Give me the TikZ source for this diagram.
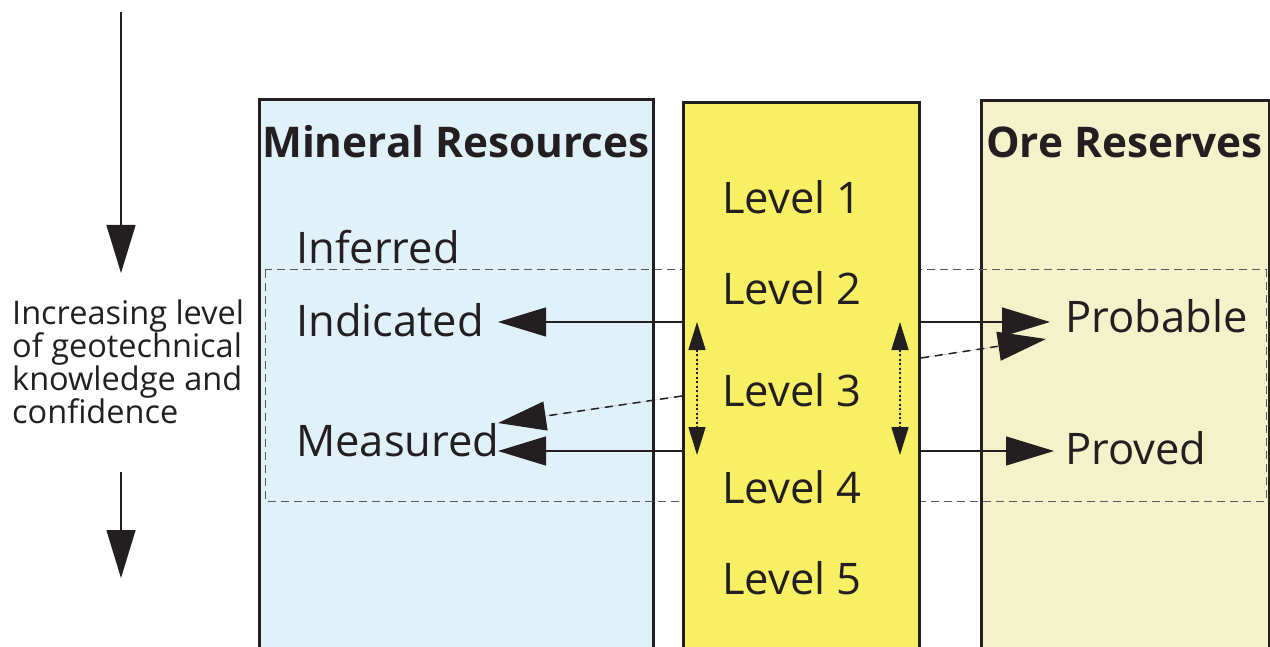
\documentclass[tikz,border=0pt]{standalone}
\usepackage{fontspec}
\setmainfont{Open Sans}
\usepackage{xcolor}
\usepackage{tikz}
\usetikzlibrary{arrows.meta}
\usetikzlibrary{positioning}
\definecolor{inkgray}{RGB}{35,31,32}
\definecolor{resblue}{RGB}{224,241,249}
\definecolor{lvlyellow}{RGB}{248,240,100}
\definecolor{rescream}{RGB}{243,242,203}
\tikzset{
    colbox/.style = {draw=inkgray, line width=3pt, anchor=north west, inner sep=0pt, minimum height=600pt},
    headtext/.style = {anchor=base west, inner sep=0pt, text=inkgray, font=\bfseries\fontsize{42.3}{50}\selectfont},
    cattext/.style = {anchor=base west, inner sep=0pt, text=inkgray, font=\fontsize{43.5}{50}\selectfont},
    captext/.style = {anchor=west, inner sep=0pt, align=left, text=inkgray, font=\fontsize{32.5}{33}\selectfont},
}

\begin{document}
\begin{tikzpicture}[
	x=1pt, y=-1pt,
	line join=miter
]
\tikzset{
    band/.style = {dash pattern=on 8pt off 5pt, line width=1pt, inkgray!75},
    bigarrow/.style = {-{Triangle[length=48pt,width=29pt]}, line width=1.5pt, draw=inkgray, fill=inkgray},
    dasharrow/.style = {bigarrow, dash pattern=on 8pt off 6pt},
    dotarrow/.style = {{Triangle[length=28pt,width=17pt]}-{Triangle[length=28pt,width=17pt]}, dash pattern=on 2pt off 2.5pt, line width=1.5pt, draw=inkgray, fill=inkgray}
}
\useasboundingbox (0,0) rectangle (1270,647);
\clip (0,0) rectangle (1270,647);
%
\node[colbox, fill=resblue, minimum width=394pt] at (258,98) (mr) {};
\node[colbox, fill=rescream, minimum width=288pt] at (980,99) (or) {};
\draw[band] (265,270) rectangle (1266,501);
\node[colbox, fill=lvlyellow, minimum width=236pt] at (682,101) (lv) {};
%
\node[headtext] at (262,158) (mrh) {Mineral Resources};
\node[headtext] at (986,158) (orh) {Ore Reserves};
%
\node[cattext] at (296,264) (inf) {Inferred};
\node[cattext] at (296,337) (ind) {Indicated};
\node[cattext] at (296,456) (mea) {Measured};
\node[cattext] at (1065,333) (pro) {Probable};
\node[cattext] at (1065,464) (prv) {Proved};
%
\node[cattext] at (722,214) (l1) {Level 1};
\node[cattext] at (722,305) (l2) {Level 2};
\node[cattext] at (722,406) (l3) {Level 3};
\node[cattext] at (722,503) (l4) {Level 4};
\node[cattext] at (722,594) (l5) {Level 5};
%
\node[captext] at (12,362) (conf) {Increasing level\\of geotechnical\\knowledge and\\confidence};
\coordinate (up1) at (121,12);
\coordinate (up2) at (121,472);
\draw[bigarrow] (up1) -- (121,273);
\draw[bigarrow] (up2) -- (121,578);
%
\coordinate (indtip) at (498,322);
\coordinate (meatip) at (498,451);
\coordinate (meadash) at (498,423);
\coordinate (protip) at (1050,322);
\coordinate (prodash) at (1046,339);
\coordinate (prvtip) at (1054,451);
\draw[bigarrow] (lv.west |- indtip) -- (indtip);
\draw[bigarrow] (lv.west |- meatip) -- (meatip);
\draw[dasharrow] (lv.west |- 0,396) -- (meadash);
\draw[bigarrow] (lv.east |- protip) -- (protip);
\draw[bigarrow] (lv.east |- prvtip) -- (prvtip);
\draw[dasharrow] (lv.east |- 0,358) -- (prodash);
%
\coordinate (dl) at (697,0);
\coordinate (dr) at (900,0);
\draw[dotarrow] (dl |- indtip) -- (dl |- 0,455);
\draw[dotarrow] (dr |- indtip) -- (dr |- 0,455);
\end{tikzpicture}
\end{document}
